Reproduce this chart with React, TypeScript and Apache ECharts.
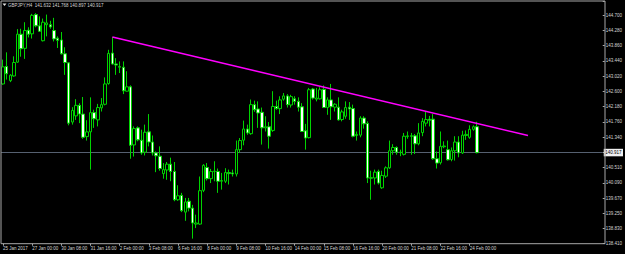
import React, { useEffect, useRef } from "react";
import * as echarts from "echarts";

const symbol = "GBPJPY,H4";

const xTickLabels = [
  "25 Jan 2017", "27 Jan 00:00", "30 Jan 08:00", "31 Jan 16:00", "2 Feb 00:00",
  "3 Feb 08:00", "6 Feb 16:00", "8 Feb 00:00", "9 Feb 08:00", "10 Feb 16:00",
  "14 Feb 00:00", "15 Feb 08:00", "16 Feb 16:00", "20 Feb 00:00", "21 Feb 08:00",
  "22 Feb 16:00", "24 Feb 00:00",
];

const yTickLabels = [
  "144.700", "144.280", "143.860", "143.440", "143.020", "142.600", "142.180",
  "141.760", "141.340", "140.510", "140.090", "139.670", "139.250", "138.830", "138.410",
];

const opens = [
  142.81, 143.29, 142.90, 143.03, 143.41, 144.18, 143.79, 144.29, 144.19, 144.72,
  144.41, 144.00, 144.44, 144.44, 144.28, 144.07, 144.02, 143.64, 143.39, 141.76,
  141.93, 142.22, 141.98, 141.36, 141.49, 142.02, 141.82, 142.15, 142.25, 142.82,
  143.66, 143.36, 143.27, 143.27, 142.61, 142.73, 141.13, 141.60, 141.26, 140.93,
  141.49, 141.21, 140.91, 140.82, 140.34, 140.44, 140.60, 140.40, 139.62, 139.74,
  139.28, 139.58, 139.39, 138.95, 138.95, 139.88, 140.51, 140.20, 140.40, 140.40,
  140.13, 140.13, 140.37, 140.36, 140.33, 141.00, 141.26, 141.57, 141.44, 142.24,
  142.12, 142.03, 141.60, 141.63, 141.53, 142.19, 142.13, 142.39, 142.48, 142.23,
  142.40, 142.33, 142.18, 141.52, 141.33, 142.67, 142.39, 142.40, 142.66, 142.16,
  142.37, 142.17, 142.17, 141.83, 141.92, 142.17, 142.13, 141.39, 141.40, 141.87,
  141.72, 140.21, 140.22, 140.40, 139.95, 140.27, 140.50, 140.97, 141.06, 140.92,
  140.87, 141.36, 141.38, 141.38, 141.16, 141.47, 141.73, 141.84, 141.84, 140.75,
  140.64, 141.08, 141.00, 140.73, 140.97, 141.21, 140.91, 141.39, 141.34, 141.56,
  141.632,
];

const closes = [
  143.28, 143.09, 143.05, 143.40, 144.18, 143.78, 144.28, 144.18, 144.70, 144.41,
  144.26, 144.51, 144.49, 144.38, 144.05, 144.01, 143.64, 143.40, 141.73, 142.08,
  142.22, 141.98, 141.34, 141.49, 142.02, 141.85, 142.16, 142.24, 142.81, 143.65,
  143.36, 143.33, 143.29, 142.62, 142.73, 141.12, 141.58, 141.27, 140.91, 141.48,
  141.21, 140.91, 140.83, 140.48, 140.45, 140.60, 140.40, 139.62, 139.73, 139.32,
  139.56, 139.39, 138.98, 138.98, 139.87, 140.57, 140.20, 140.40, 140.41, 140.13,
  140.15, 140.37, 140.34, 140.33, 141.00, 141.25, 141.57, 141.46, 142.24, 142.10,
  142.01, 141.60, 141.63, 141.37, 142.19, 142.13, 142.37, 142.48, 142.24, 142.46,
  142.33, 142.17, 141.50, 141.32, 142.65, 142.42, 142.42, 142.65, 142.16, 142.37,
  142.18, 142.25, 141.82, 142.04, 142.16, 142.12, 141.37, 141.42, 141.87, 141.71,
  140.22, 140.23, 140.38, 140.08, 140.29, 140.50, 140.97, 141.06, 140.93, 140.93,
  141.37, 141.38, 141.37, 141.16, 141.46, 141.78, 141.83, 141.81, 140.75, 140.63,
  141.09, 141.10, 140.72, 140.97, 141.21, 140.91, 141.40, 141.42, 141.56, 141.63,
  140.917,
];

const lows = [
  142.79, 142.93, 142.86, 143.01, 143.39, 143.56, 143.50, 144.09, 144.06, 144.37,
  144.24, 143.98, 144.12, 144.33, 143.98, 143.80, 143.62, 143.06, 141.67, 141.69,
  141.82, 141.73, 141.30, 141.25, 140.45, 141.60, 141.64, 142.05, 142.22, 142.79,
  143.34, 143.06, 143.11, 142.53, 142.60, 140.75, 140.81, 141.23, 140.86, 140.84,
  141.09, 140.84, 140.38, 140.42, 140.20, 140.17, 140.13, 139.58, 139.59, 139.28,
  139.04, 139.30, 138.55, 138.84, 138.93, 139.83, 140.15, 140.08, 140.13, 139.81,
  139.90, 140.08, 140.04, 140.26, 140.26, 140.91, 141.12, 141.41, 141.41, 142.04,
  141.60, 141.14, 141.50, 141.03, 141.49, 142.10, 141.98, 142.35, 142.16, 142.16,
  142.24, 142.05, 141.49, 141.00, 141.31, 142.38, 142.33, 142.38, 142.15, 141.96,
  141.82, 142.05, 141.80, 141.78, 141.85, 141.82, 141.34, 141.25, 141.34, 141.58,
  140.08, 139.62, 140.04, 140.04, 139.92, 140.22, 140.47, 140.86, 140.86, 140.82,
  140.84, 141.30, 140.86, 140.88, 141.12, 141.37, 141.64, 141.64, 140.72, 140.48,
  140.59, 141.04, 140.70, 140.68, 140.70, 140.79, 140.88, 141.27, 141.30, 141.52,
  140.897,
];

const highs = [
  143.48, 143.68, 143.08, 143.57, 144.32, 144.33, 144.51, 144.37, 144.74, 144.76,
  144.67, 144.61, 144.72, 144.55, 144.63, 144.12, 144.24, 143.82, 143.40, 142.17,
  142.39, 142.28, 142.45, 141.81, 142.44, 142.10, 142.26, 142.42, 142.99, 143.75,
  144.10, 143.52, 143.43, 143.43, 143.16, 142.77, 141.64, 141.64, 141.55, 141.69,
  141.98, 141.39, 140.95, 141.09, 140.63, 140.66, 140.78, 140.66, 140.02, 139.81,
  139.67, 139.67, 139.48, 139.21, 140.26, 140.60, 140.63, 140.47, 140.68, 140.48,
  140.36, 140.49, 140.45, 140.45, 141.25, 141.32, 141.80, 141.69, 142.38, 142.35,
  142.33, 142.16, 141.92, 141.76, 142.61, 142.35, 142.47, 142.56, 142.53, 142.51,
  142.47, 142.44, 142.28, 141.71, 142.70, 142.70, 142.70, 142.72, 142.77, 142.44,
  142.81, 142.28, 142.44, 142.10, 142.33, 142.31, 142.24, 141.50, 141.92, 141.92,
  141.78, 140.42, 140.45, 140.45, 140.42, 140.54, 141.25, 141.15, 141.09, 141.00,
  141.46, 141.50, 141.46, 141.43, 141.73, 141.87, 142.04, 141.93, 141.98, 140.95,
  141.50, 141.23, 141.25, 141.06, 141.37, 141.37, 141.52, 141.53, 141.67, 141.67,
  141.768,
];

const currentPrice = 140.917;
const trendIndices = [30, 144];
const trendPrices = [144.1, 141.39];
const totalSlots = 165;

export default function App() {
  const ref = useRef<HTMLDivElement>(null);

  useEffect(() => {
    const chart = echarts.init(ref.current!, null, { renderer: "svg" });
    const categories = Array.from({ length: totalSlots }, (_, i) => String(i));
    const candles = opens.map((o, i) => [o, closes[i], lows[i], highs[i]]);
    const trendData: (number | null)[] = categories.map(() => null);
    trendIndices.forEach((idx, k) => {
      trendData[idx] = trendPrices[k];
    });

    const yInterval = 0.419424;
    const yMin = 330 * yInterval;
    const yMax = 145.094;
    const green = "#00d400";
    const textColor = "#d4d4d4";
    const axisColor = "#a8a8a8";
    const font = "'Liberation Sans', Arial, sans-serif";
    const last = opens.length - 1;
    const header = `${symbol}  ${opens[last].toFixed(3)} ${highs[last].toFixed(3)} ${lows[last].toFixed(3)} ${closes[last].toFixed(3)}`;
    const showX = (i: number) => i % 8 === 0 && i / 8 < xTickLabels.length;

    chart.setOption({
      animation: false,
      backgroundColor: "#000000",
      grid: { left: -0.74, right: 20, top: 1, bottom: 10.3 },
      xAxis: {
        type: "category",
        data: categories,
        boundaryGap: true,
        axisLine: { show: false },
        axisTick: {
          show: true,
          alignWithLabel: true,
          interval: (i: number) => showX(i),
          length: 2,
          lineStyle: { color: axisColor },
        },
        axisLabel: {
          interval: (i: number) => showX(i),
          formatter: (v: string) => {
            const i = Number(v);
            return showX(i) ? xTickLabels[i / 8] : "";
          },
          align: "left",
          color: textColor,
          fontSize: 4.5,
          fontFamily: font,
          margin: 2,
        },
        splitLine: { show: false },
      },
      yAxis: {
        type: "value",
        position: "right",
        min: yMin,
        max: yMax,
        interval: yInterval,
        axisLine: { show: false },
        axisTick: { show: true, length: 2, lineStyle: { color: axisColor } },
        axisLabel: {
          formatter: (v: number) => {
            let best = "";
            let bd = 1e9;
            yTickLabels.forEach((s) => {
              const d = Math.abs(parseFloat(s) - v);
              if (d < bd) {
                bd = d;
                best = s;
              }
            });
            return bd < 0.05 ? best : "";
          },
          color: textColor,
          fontSize: 4.5,
          fontFamily: font,
          margin: 3,
          hideOverlap: false,
        },
        splitLine: { show: false },
      },
      graphic: [
        {
          type: "rect",
          shape: { x: 1, y: 1, width: 604, height: 242.7 },
          style: { fill: "none", stroke: axisColor, lineWidth: 1 },
          silent: true,
          z: 10,
        },
        {
          type: "polygon",
          shape: { points: [[2.5, 3.5], [6.5, 3.5], [4.5, 6]] },
          style: { fill: "#e0e0e0" },
          silent: true,
          z: 10,
        },
        {
          type: "text",
          left: 8,
          top: 2.5,
          style: { text: header, fill: textColor, fontSize: 4.5, fontFamily: font },
          silent: true,
          z: 10,
        },
      ],
      series: [
        {
          type: "candlestick",
          data: candles,
          barWidth: 3,
          z: 2,
          itemStyle: {
            color: "#000000",
            color0: "#ffffff",
            borderColor: green,
            borderColor0: green,
            borderWidth: 1,
          },
          markLine: {
            silent: true,
            z: 1,
            symbol: ["none", "none"],
            animation: false,
            data: [
              {
                yAxis: currentPrice,
                lineStyle: { color: "#566070", width: 1, type: "solid" },
                label: {
                  show: true,
                  position: "end",
                  formatter: currentPrice.toFixed(3),
                  color: "#000000",
                  backgroundColor: "#f0f0f0",
                  fontSize: 4.5,
                  fontFamily: font,
                  padding: [1.5, 1.5, 1, 1.5],
                  distance: 1,
                },
              },
            ],
          },
        },
        {
          type: "line",
          data: trendData,
          connectNulls: true,
          showSymbol: false,
          symbol: "none",
          z: 5,
          lineStyle: { color: "#ff00ff", width: 1.5 },
          silent: true,
        },
      ],
    });

    return () => chart.dispose();
  }, []);

  return (
    <div
      ref={ref}
      style={{ position: "fixed", left: 0, top: 0, width: 625, height: 254, background: "#000" }}
    />
  );
}
